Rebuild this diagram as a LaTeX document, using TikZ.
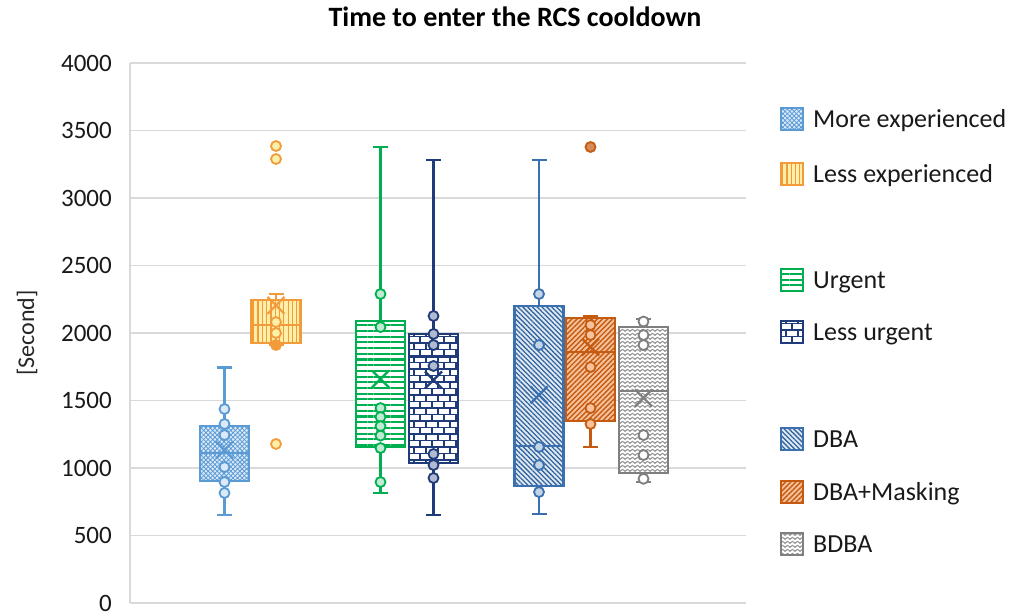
\documentclass[tikz,border=0pt]{standalone}
\usepackage{fontspec}
\setmainfont{Carlito}
\usetikzlibrary{patterns.meta}

% colours of the seven groups
\definecolor{gridgray}{HTML}{D9D9D9}
\definecolor{moreC}{HTML}{5B9BD5}
\definecolor{moreBg}{HTML}{DCE9F6}
\definecolor{lessC}{HTML}{F29B3B}
\definecolor{lessBg}{HTML}{FFEFA8}
\definecolor{urgC}{HTML}{00B050}
\definecolor{lurgC}{HTML}{1F3B7A}
\definecolor{dbaC}{HTML}{3A70B0}
\definecolor{maskC}{HTML}{C55A11}
\definecolor{maskBg}{HTML}{F6C29C}
\definecolor{bdbaC}{HTML}{7F7F7F}

% brick wall with thick mortar lines
\pgfdeclarepattern{
  name=brickwall,
  type=uncolored,
  bottom left={\pgfpoint{-1pt}{-1pt}},
  top right={\pgfpoint{13pt}{15pt}},
  tile size={\pgfpoint{12pt}{13pt}},
  code={
    \pgfsetlinewidth{1.6pt}
    \pgfpathmoveto{\pgfpoint{-1pt}{0pt}}\pgfpathlineto{\pgfpoint{13pt}{0pt}}
    \pgfpathmoveto{\pgfpoint{-1pt}{6.5pt}}\pgfpathlineto{\pgfpoint{13pt}{6.5pt}}
    \pgfpathmoveto{\pgfpoint{0pt}{0pt}}\pgfpathlineto{\pgfpoint{0pt}{6.5pt}}
    \pgfpathmoveto{\pgfpoint{6pt}{6.5pt}}\pgfpathlineto{\pgfpoint{6pt}{13pt}}
    \pgfusepath{stroke}
  }
}
% zig-zag waves
\pgfdeclarepattern{
  name=zigwave,
  type=uncolored,
  bottom left={\pgfpoint{-1pt}{-1pt}},
  top right={\pgfpoint{6pt}{5pt}},
  tile size={\pgfpoint{5pt}{4pt}},
  code={
    \pgfsetlinewidth{1pt}
    \pgfpathmoveto{\pgfpoint{-0.5pt}{0.6pt}}
    \pgfpathlineto{\pgfpoint{2.5pt}{2.6pt}}
    \pgfpathlineto{\pgfpoint{5.5pt}{0.6pt}}
    \pgfusepath{stroke}
  }
}

\tikzset{
  gridline/.style={draw=gridgray, line width=1.5pt},
  ticklabel/.style={font=\fontsize{25}{30}\selectfont, text=black!90, inner sep=0pt},
  legendtext/.style={font=\fontsize{26}{31}\selectfont, text=black!90, inner sep=0pt, anchor=base west},
  % per-group looks: outline, background, pattern, data points
  more-line/.style={draw=moreC, line width=2.4pt},
  more-bg/.style={fill=moreBg},
  more-pat/.style={pattern={Hatch[angle=45,distance=3.2pt,line width=0.8pt]}, pattern color=moreC},
  more-pt/.style={draw=moreC, line width=1.8pt, fill=moreBg},
  less-line/.style={draw=lessC, line width=2.4pt},
  less-bg/.style={fill=lessBg},
  less-pat/.style={pattern={Lines[angle=90,distance=4.3pt,line width=1.2pt]}, pattern color=lessC},
  less-pt/.style={draw=lessC, line width=1.8pt, fill=lessBg},
  urg-line/.style={draw=urgC, line width=2.4pt},
  urg-bg/.style={fill=white},
  urg-pat/.style={pattern={Lines[angle=0,distance=5.7pt,line width=2.1pt]}, pattern color=urgC},
  urg-pt/.style={draw=urgC, line width=1.8pt, fill=urgC!25},
  lurg-line/.style={draw=lurgC, line width=2.4pt},
  lurg-bg/.style={fill=white},
  lurg-pat/.style={pattern=brickwall, pattern color=lurgC},
  lurg-pt/.style={draw=lurgC, line width=1.8pt, fill=lurgC!35},
  dba-line/.style={draw=dbaC, line width=2.4pt},
  dba-bg/.style={fill=dbaC!15},
  dba-pat/.style={pattern={Lines[angle=-45,distance=3.4pt,line width=1.3pt]}, pattern color=dbaC!90!black},
  dba-pt/.style={draw=dbaC, line width=1.8pt, fill=dbaC!30},
  mask-line/.style={draw=maskC, line width=2.4pt},
  mask-bg/.style={fill=maskBg},
  mask-pat/.style={pattern={Lines[angle=45,distance=3.6pt,line width=1.4pt]}, pattern color=maskC},
  mask-pt/.style={draw=maskC, line width=1.8pt, fill=maskBg},
  bdba-line/.style={draw=bdbaC, line width=2.4pt},
  bdba-bg/.style={fill=white},
  bdba-pat/.style={pattern=zigwave, pattern color=bdbaC!85},
  bdba-pt/.style={draw=bdbaC, line width=1.8pt, fill=white},
}

% #1 group, #2 x, #3 lower whisker, #4 Q1, #5 median, #6 Q3, #7 upper whisker, #8 mean, #9 points
\newcommand\boxgroup[9]{%
  \draw[#1-line] (#2,#3) -- (#2,#4) (#2,#6) -- (#2,#7);
  \draw[#1-line] (#2-7.5,#3) -- (#2+7.5,#3) (#2-7.5,#7) -- (#2+7.5,#7);
  \fill[#1-bg] (#2-24.5,#4) rectangle (#2+24.5,#6);
  \fill[#1-pat] (#2-24.5,#4) rectangle (#2+24.5,#6);
  \draw[#1-line] (#2-24.5,#4) rectangle (#2+24.5,#6);
  \draw[#1-line] (#2-24.5,#5) -- (#2+24.5,#5);
  \foreach \v in {#9} \draw[#1-pt] (#2,\v) circle[radius=5pt];
  \draw[#1-line, line width=2.2pt] (#2,#8) ++(-8.5pt,-8.5pt) -- ++(17pt,17pt)
        ++(-17pt,0pt) -- ++(17pt,-17pt);
}

% legend entry: #1 group, #2 name, #3 vertical centre, #4 text
\newcommand\legendentry[4]{%
  \fill[#1-bg] (781,#3-11) rectangle (803,#3+11);
  \fill[#1-pat] (781,#3-11) rectangle (803,#3+11);
  \draw[#1-line, line width=2pt] (781,#3-11) rectangle (803,#3+11);
  \node[legendtext] (#2) at (813,#3-8.4) {#4};
}

\begin{document}
\begin{tikzpicture}[x=1pt, y=1pt]
\useasboundingbox (0,0) rectangle (1018,616);

\node[font=\bfseries\fontsize{28}{33}\selectfont, text=black, anchor=base, inner sep=0pt]
  (title) at (515,589) {Time to enter the RCS cooldown};
\node[font=\fontsize{24}{29}\selectfont, text=black!85, rotate=90, inner sep=0pt]
  (ylabel) at (27,283) {[Second]};

\begin{scope}[yshift=13pt, y=0.135pt]
  % value grid and axis
  \foreach \v in {0,500,...,4000} {
    \draw[gridline] (130,\v) -- (746,\v);
    \node[ticklabel, anchor=base east] (tick\v) at ([yshift=-8.3pt]112,\v) {\v};
  }
  \draw[gridline] (130,0) -- (130,4000);

  % box plots
  \boxgroup{more}{224.5}{652}{904}{1110}{1311}{1745}{1133}{1437,1326,1244,1007,896,815}
  \boxgroup{less}{276}{1911}{1926}{2059}{2244}{2289}{2205}{2081,2000}
  \draw[less-pt, fill=lessC] (276,1911) circle[radius=5pt];
  \foreach \v in {3385,3289,1178} \draw[less-pt] (276,\v) circle[radius=5pt];

  \boxgroup{urg}{380.5}{815}{1156}{2089}{2089}{3378}{1659}{2289,2044,1444,1378,1310,1240,1148,896}
  \boxgroup{lurg}{433.5}{652}{1037}{1822}{1993}{3281}{1652}{2126,1993,1911,1756,1104,1022,926}
  \boxgroup{dba}{539}{659}{867}{1163}{2200}{3281}{1541}{2289,1911,1156,1022,822}
  \boxgroup{mask}{590.5}{1156}{1348}{1859}{2111}{2126}{1896}{2059,1985,1748,1444,1326}
  \draw[mask-pt, fill=maskC!70] (590.5,3378) circle[radius=5pt];
  \boxgroup{bdba}{643.5}{896}{963}{1570}{2044}{2104}{1519}{2085,1985,1911,1244,1096,920}
\end{scope}

% legend
\legendentry{more}{lgmore}{496.5}{More experienced}
\legendentry{less}{lgless}{442}{Less experienced}
\legendentry{urg}{lgurg}{336}{Urgent}
\legendentry{lurg}{lglurg}{284}{Less urgent}
\legendentry{dba}{lgdba}{177}{DBA}
\legendentry{mask}{lgmask}{124}{DBA+Masking}
\legendentry{bdba}{lgbdba}{72}{BDBA}
\end{tikzpicture}
\end{document}
